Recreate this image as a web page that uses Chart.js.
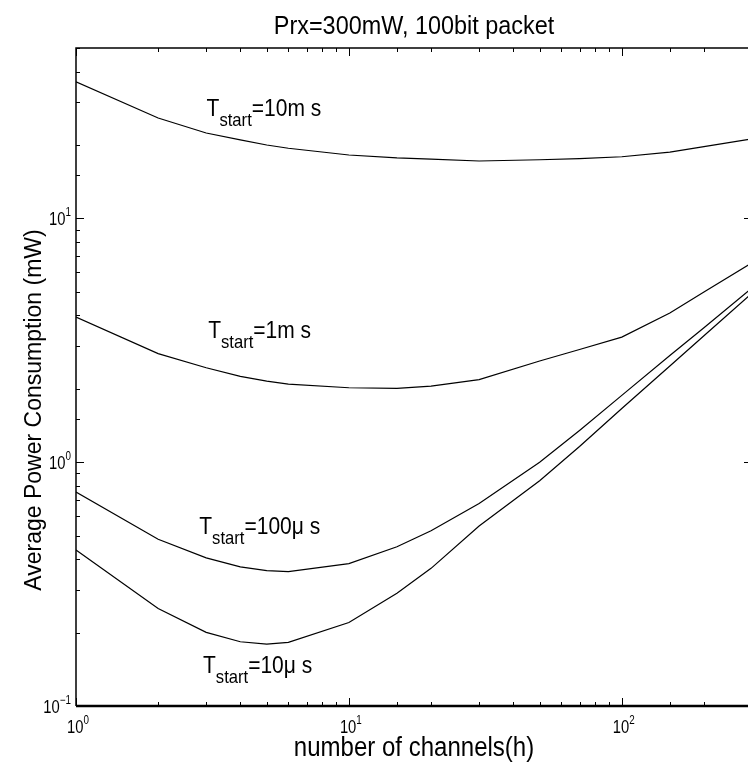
<!DOCTYPE html>
<html>
<head>
<meta charset="utf-8">
<title>Average Power Consumption</title>
<script src="https://cdn.jsdelivr.net/npm/chart.js@4.4.1/dist/chart.umd.min.js"></script>
<style>
    body { margin: 0; background: #fff; overflow: hidden; }
</style>
</head>
<body>
<canvas id="powerChart" width="760" height="774"></canvas>
<script>
// number of channels (h)
const channels = [1, 2, 3, 4, 5, 6, 10, 15, 20, 30, 50, 70, 100, 150, 200, 300];

// average power consumption (mW) for each start-up time
const power10ms  = [36.3, 25.8, 22.4, 21.0, 20.0, 19.4, 18.2, 17.7, 17.5, 17.2, 17.4, 17.6, 17.9, 18.7, 19.7, 21.2];
const power1ms   = [3.94, 2.79, 2.44, 2.25, 2.15, 2.09, 2.02, 2.01, 2.05, 2.18, 2.60, 2.90, 3.26, 4.09, 4.99, 6.58];
const power100us = [0.755, 0.483, 0.405, 0.372, 0.359, 0.356, 0.384, 0.45, 0.523, 0.677, 1.0, 1.35, 1.88, 2.74, 3.56, 5.18];
const power10us  = [0.436, 0.251, 0.2005, 0.1835, 0.1795, 0.1824, 0.220, 0.29, 0.367, 0.547, 0.84, 1.16, 1.66, 2.48, 3.30, 4.94];

const seriesLabels = ["=10m s", "=1m s", "=100\u03bc s", "=10\u03bc s"];
const seriesValues = [power10ms, power1ms, power100us, power10us];

const xRange = [1, 300];
const yRange = [0.1, 50];

const titleText = "Prx=300mW, 100bit packet";
const xTitle = "number of channels(h)";
const yTitle = "Average Power Consumption (mW)";

// where each curve label sits (data coords: left of the T, baseline)
const labelAnchors = [[3.01, 26.3], [3.05, 3.22], [2.83, 0.508], [2.92, 0.136]];

const FONT = "'Liberation Sans', Arial, Helvetica, sans-serif";

// draws text pieces side by side, squeezed horizontally by sx (the original font is narrow)
function drawPieces(ctx, x, y, pieces, sx) {
    sx = sx || 1;
    let cx = 0;
    ctx.save();
    ctx.translate(x, y);
    ctx.scale(sx, 1);
    pieces.forEach(p => {
        ctx.font = p[1] + "px " + FONT;
        ctx.fillText(p[0], cx, p[2]);
        cx += ctx.measureText(p[0]).width;
    });
    ctx.restore();
    return cx * sx;
}

function piecesWidth(ctx, pieces, sx) {
    let w = 0;
    pieces.forEach(p => {
        ctx.font = p[1] + "px " + FONT;
        w += ctx.measureText(p[0]).width;
    });
    return w * (sx || 1);
}

function isDecade(v) {
    const l = Math.log10(v);
    return Math.abs(l - Math.round(l)) < 1e-6;
}

const framePlugin = {
    id: "frame",
    afterDraw(chart) {
        const ctx = chart.ctx;
        const a = chart.chartArea;
        const xs = chart.scales.x;
        const ys = chart.scales.y;
        ctx.save();
        ctx.strokeStyle = "#000";
        ctx.fillStyle = "#000";

        // axes box
        ctx.lineWidth = 1.5;
        ctx.beginPath();
        ctx.moveTo(a.left, a.bottom);
        ctx.lineTo(a.left, a.top);
        ctx.lineTo(a.right, a.top);
        ctx.lineTo(a.right, a.bottom);
        ctx.stroke();
        ctx.lineWidth = 2.5;
        ctx.beginPath();
        ctx.moveTo(a.left, a.bottom);
        ctx.lineTo(a.right, a.bottom);
        ctx.stroke();

        // inward tick marks on all four sides
        ctx.lineWidth = 1;
        ctx.beginPath();
        xs.ticks.forEach(t => {
            const px = Math.round(xs.getPixelForValue(t.value)) + 0.5;
            const len = isDecade(t.value) ? 8 : 4;
            ctx.moveTo(px, a.bottom); ctx.lineTo(px, a.bottom - len);
            ctx.moveTo(px, a.top); ctx.lineTo(px, a.top + len);
        });
        ys.ticks.forEach(t => {
            const py = Math.round(ys.getPixelForValue(t.value)) + 0.5;
            const len = isDecade(t.value) ? 8 : 4;
            ctx.moveTo(a.left, py); ctx.lineTo(a.left + len, py);
            ctx.moveTo(a.right, py); ctx.lineTo(a.right - len, py);
        });
        ctx.stroke();

        // decade tick labels, 10 with superscript exponent
        ctx.textBaseline = "alphabetic";
        xs.ticks.filter(t => isDecade(t.value)).forEach(t => {
            const e = String(Math.round(Math.log10(t.value)));
            const pieces = [["10", 18, 0], [e, 12, -9]];
            const px = xs.getPixelForValue(t.value);
            drawPieces(ctx, px - 9, a.bottom + 27, pieces, 0.82);
        });
        ys.ticks.filter(t => isDecade(t.value)).forEach(t => {
            const e = String(Math.round(Math.log10(t.value))).replace("-", "\u2212");
            const pieces = [["10", 18, 0], [e, 12, -9]];
            const py = ys.getPixelForValue(t.value);
            const w = piecesWidth(ctx, pieces, 0.82);
            drawPieces(ctx, a.left - 5 - w, py + 7, pieces, 0.82);
        });

        // titles
        const cx = (a.left + a.right) / 2;
        const tw = piecesWidth(ctx, [[titleText, 26, 0]], 0.9);
        drawPieces(ctx, cx - tw / 2, 34, [[titleText, 26, 0]], 0.9);
        const xw = piecesWidth(ctx, [[xTitle, 27, 0]], 0.89);
        drawPieces(ctx, cx - xw / 2, 756, [[xTitle, 27, 0]], 0.89);
        ctx.save();
        ctx.translate(41, (a.top + a.bottom) / 2 + 33);
        ctx.rotate(-Math.PI / 2);
        ctx.textAlign = "center";
        ctx.font = "23px " + FONT;
        ctx.fillText(yTitle, 0, 0);
        ctx.restore();

        // curve labels
        seriesLabels.forEach((lab, i) => {
            const px = xs.getPixelForValue(labelAnchors[i][0]);
            const py = ys.getPixelForValue(labelAnchors[i][1]);
            drawPieces(ctx, px, py, [["T", 24, 0], ["start", 19, 10], [lab, 24, 0]], 0.875);
        });
        ctx.restore();
    }
};

const ctx = document.getElementById("powerChart").getContext("2d");

new Chart(ctx, {
    type: "line",
    data: {
        datasets: seriesValues.map((vals, i) => ({
            label: "T start" + seriesLabels[i],
            data: channels.map((c, j) => ({ x: c, y: vals[j] })),
            borderColor: "#000",
            borderWidth: 1.2,
            pointRadius: 0,
            fill: false,
            tension: 0
        }))
    },
    options: {
        responsive: false,
        animation: false,
        devicePixelRatio: 1,
        layout: {
            padding: { left: 76, top: 48, right: 8, bottom: 68 }
        },
        plugins: {
            legend: { display: false },
            tooltip: { enabled: false },
            title: { display: false }
        },
        scales: {
            x: {
                type: "logarithmic",
                min: xRange[0],
                max: xRange[1],
                grid: { display: false, drawTicks: false },
                border: { display: false },
                ticks: { display: false }
            },
            y: {
                type: "logarithmic",
                min: yRange[0],
                max: yRange[1],
                grid: { display: false, drawTicks: false },
                border: { display: false },
                ticks: { display: false }
            }
        }
    },
    plugins: [framePlugin]
});
</script>
</body>
</html>
